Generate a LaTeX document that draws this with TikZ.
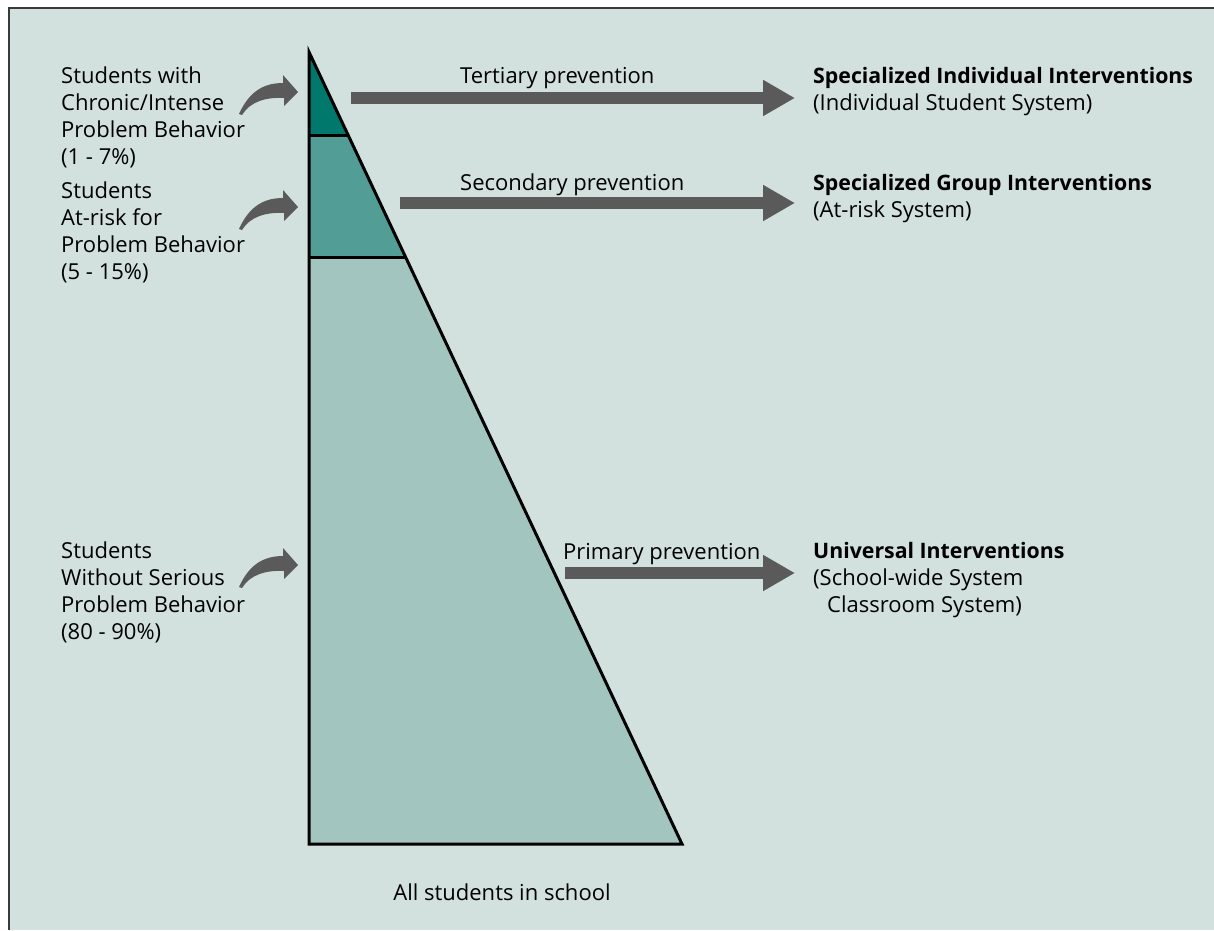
\documentclass[tikz,border=0pt]{standalone}
\usepackage{fontspec}
\setmainfont{Open Sans}
\usetikzlibrary{calc,arrows.meta}
\definecolor{bgteal}{HTML}{D3E1DE}
\definecolor{framegray}{HTML}{3A3A3A}
\definecolor{arrowgray}{HTML}{5A5A5A}
\definecolor{tiertop}{HTML}{00786C}
\definecolor{tiermid}{HTML}{529E96}
\definecolor{tierlow}{HTML}{A3C5C0}
\def\bendarrow(#1,#2){\fill[arrowgray,shift={(#1,#2)}] (-59,22) .. controls (-49,0) and (-35,-9) .. (-15,-9) -- (-15,-17) -- (0,0) -- (-14,14) -- (-14,6) .. controls (-33,5) and (-48,10) .. (-56,23) -- cycle;}

\begin{document}
\begin{tikzpicture}[x=1pt,y=-1pt,
	lbl/.style={inner sep=0pt, font=\fontsize{22}{27}\selectfont, align=left},
	bigarrow/.style={draw=arrowgray, line width=12pt, -{Triangle[length=32pt,width=34pt]}},
	outline/.style={draw=black, line width=3pt}]
		%%%%% START %%%%%
		\useasboundingbox (0,0) rectangle (1214,930);
		\fill[white] (0,0) rectangle (1214,930);
		\fill[bgteal] (8,7) rectangle (1214,930);
		\draw[framegray, line width=2pt] (9,930) -- (9,8) -- (1214,8);
		
		% pyramid
		\coordinate (apex) at (309,52);
		\coordinate (base) at (309,844);
		\coordinate (corner) at (682,844);
		\coordinate (cut1) at ($(apex)!0.105!(corner)$);
		\coordinate (cut2) at ($(apex)!0.259!(corner)$);
		\coordinate (left1) at ($(apex)!0.105!(base)$);
		\coordinate (left2) at ($(apex)!0.259!(base)$);
		\fill[tierlow] (left2) -- (cut2) -- (corner) -- (base) -- cycle;
		\fill[tiermid] (left1) -- (cut1) -- (cut2) -- (left2) -- cycle;
		\fill[tiertop] (apex) -- (cut1) -- (left1) -- cycle;
		\draw[outline] (apex) -- (corner) -- (base) -- cycle;
		\draw[outline] (left1) -- (cut1);
		\draw[outline] (left2) -- (cut2);
		
		% left labels
		\node[lbl, anchor=north west] (chronic) at (61,67) {Students with\\Chronic/Intense\\Problem Behavior\\(1 - 7\%)};
		\node[lbl, anchor=north west] (atrisk) at (61,182) {Students\\At-risk for\\Problem Behavior\\(5 - 15\%)};
		\node[lbl, anchor=north west] (without) at (61,542) {Students\\Without Serious\\Problem Behavior\\(80 - 90\%)};
		\bendarrow(298,92);
		\bendarrow(298,207);
		\bendarrow(298,565);
		
		% prevention arrows
		\coordinate (tertfrom) at (351,98);
		\coordinate (tertto) at (795,98);
		\coordinate (secfrom) at (400,203);
		\coordinate (secto) at (795,203);
		\coordinate (primfrom) at (565,573);
		\coordinate (primto) at (795,573);
		\draw[bigarrow] (tertfrom) -- (tertto);
		\draw[bigarrow] (secfrom) -- (secto);
		\draw[bigarrow] (primfrom) -- (primto);
		\node[lbl, anchor=base west] (tertiary) at (460,83) {Tertiary prevention};
		\node[lbl, anchor=base west] (secondary) at (460,190) {Secondary prevention};
		\node[lbl, anchor=base west] (primary) at (563,559) {Primary prevention};
		
		% right labels
		\node[lbl, anchor=north west] (individual) at (813,67) {{\fontsize{21.3}{27}\selectfont\bfseries Specialized Individual Interventions}\\(Individual Student System)};
		\node[lbl, anchor=north west] (group) at (813,174) {{\fontsize{21.3}{27}\selectfont\bfseries Specialized Group Interventions}\\(At-risk System)};
		\node[lbl, anchor=north west] (universal) at (813,542) {{\fontsize{21.3}{27}\selectfont\bfseries Universal Interventions}\\(School-wide System\\\hspace*{14pt}Classroom System)};
		
		\node[lbl, anchor=base] (allstudents) at (502,900) {All students in school};
		%%%%% END %%%%%
\end{tikzpicture}
\end{document}
